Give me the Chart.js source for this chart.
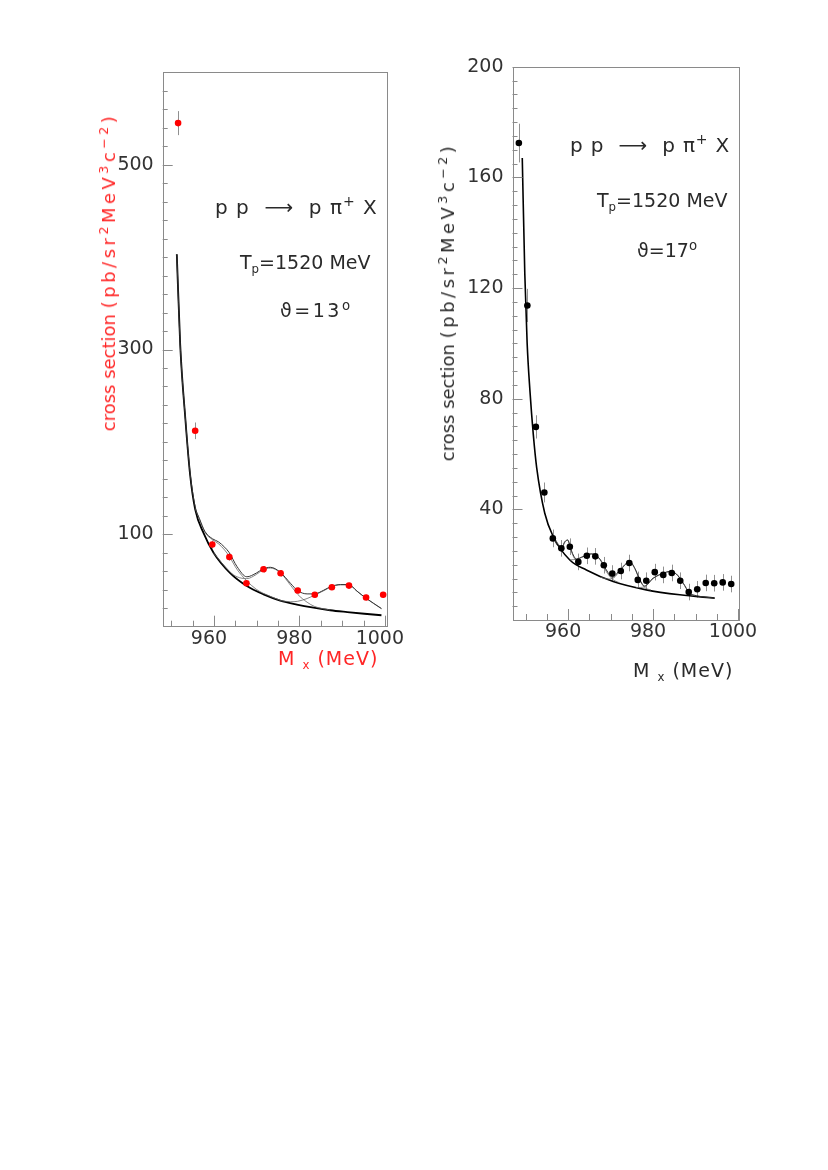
<!DOCTYPE html>
<html>
<head>
<meta charset="utf-8">
<script src="https://cdn.jsdelivr.net/npm/chart.js@4.4.1/dist/chart.umd.min.js"></script>
<style>
  body { margin: 0; background: #fff; }
  #page { position: relative; width: 828px; height: 1170px; overflow: hidden; font-family: "DejaVu Sans", sans-serif; color: #2a2a2a; }
  canvas { position: absolute; }
  .txt { position: absolute; white-space: nowrap; line-height: 1; transform: translateY(-50%); }
  .ytitle { position: absolute; white-space: nowrap; line-height: 1; font-size: 18px; transform: translate(-50%, -50%) rotate(-90deg); }
  .red { color: #ff2626; }
  .sp { letter-spacing: 3.5px; }
  sup { font-size: 0.7em; position: relative; top: -0.55em; vertical-align: baseline; line-height: 0; }
  sub { font-size: 0.62em; position: relative; top: 0.3em; vertical-align: baseline; line-height: 0; }
</style>
</head>
<body>
<div id="page">
  <canvas id="leftChart" width="347" height="640" style="left:70px;top:40px"></canvas>
  <canvas id="rightChart" width="348" height="640" style="left:420px;top:30px"></canvas>

  <div class="ytitle red" style="left:109px;top:272px">cross section <span class="sp">(pb/sr<sup>2</sup>MeV<sup>3</sup>c<sup>&minus;2</sup>)</span></div>
  <div class="txt red" style="left:278px;top:658px;font-size:19px;letter-spacing:1px">M <sub>x</sub> (MeV)</div>
  <div class="txt" style="left:215px;top:207px;font-size:20px;letter-spacing:1px">p p &nbsp;&#x27F6;&nbsp; p &pi;<sup>+</sup> X</div>
  <div class="txt" style="left:240px;top:262px;font-size:19px">T<sub>p</sub>=1520 MeV</div>
  <div class="txt" style="left:280px;top:310px;font-size:19px;letter-spacing:2.5px">&#x3D1;=13<sup>o</sup></div>

  <div class="ytitle" style="left:448px;top:302px">cross section <span class="sp">(pb/sr<sup>2</sup>MeV<sup>3</sup>c<sup>&minus;2</sup>)</span></div>
  <div class="txt" style="left:633px;top:670px;font-size:19px;letter-spacing:1px">M <sub>x</sub> (MeV)</div>
  <div class="txt" style="left:570px;top:145px;font-size:20px;letter-spacing:0.8px">p p &nbsp;&#x27F6;&nbsp; p &pi;<sup>+</sup> X</div>
  <div class="txt" style="left:597px;top:200px;font-size:19px">T<sub>p</sub>=1520 MeV</div>
  <div class="txt" style="left:637px;top:250px;font-size:19px">&#x3D1;=17<sup>o</sup></div>
</div>

<script>
// ---- theta = 13 deg (left, red points) ----
const mxLeft  = [951.6, 955.6, 959.6, 963.6, 967.6, 971.6, 975.6, 979.6, 983.6, 987.6, 991.6, 995.6, 999.6];
const csLeft  = [545, 212, 88.9, 75.5, 47, 62.2, 57.8, 39.1, 34.5, 42.7, 44.5, 31.6, 34.5];
const errLeft = [13, 9, 4.3, 4, 3.5, 3.5, 3.5, 3.2, 3, 3, 3, 3, 3];

const bgLeftX = [951.3, 952.1, 953.3, 954.4, 955.6, 957.6, 959.9, 963.8, 967.7, 971.6, 975.5, 979.4, 983.3, 987.2, 991.2, 995.2, 999.2];
const bgLeftY = [403, 305, 225, 165, 127, 101, 80, 58, 44, 35, 28.3, 24, 20.6, 17.8, 15.8, 14, 12.4];

const fitLeftX = [951.3, 952.1, 953.3, 954.4, 955.6, 956.6, 957.9, 959.7, 961.0, 962.5, 963.6, 965.4, 967.7, 969.9, 971.5, 973.2, 975.5, 977.9, 979.6, 981.8, 983.5, 985.7, 987.4, 989.6, 991.5, 993.5, 995.4, 999.2];
const fitLeftY = [403, 305, 226, 167, 130, 117, 103, 95, 92, 86, 80, 65, 54, 58, 62.5, 64.3, 59, 47, 39, 35.5, 35.5, 39.5, 43.5, 45.6, 45.6, 38.4, 31.5, 19.6];

const peak1LeftX = [955.6, 956.6, 957.9, 959.7, 961.0, 962.5, 963.6, 965.4, 967.7, 969.9, 971.6, 975.5];
const peak1LeftY = [128, 116, 102, 94, 90, 83, 76, 62, 49.5, 40.5, 36, 28.6];
const peak2LeftX = [959.9, 963.8, 965.4, 967.7, 969.9, 971.5, 973.2, 975.5, 977.9, 979.6, 981.8, 983.5, 987.2];
const peak2LeftY = [80, 59, 54, 52, 56.5, 61.5, 63.5, 58.5, 45, 35, 26.5, 22, 18];
const peak3LeftX = [975.5, 977.9, 979.6, 981.8, 983.5, 985.7, 987.4, 989.6, 991.5, 993.5, 995.4, 999.2];
const peak3LeftY = [28.3, 27, 27.5, 30.5, 34, 39, 43, 45.3, 45.3, 38.4, 31.4, 19.6];

// ---- theta = 17 deg (right, black points) ----
const mxRight  = [948.4, 950.4, 952.4, 954.4, 956.4, 958.4, 960.4, 962.4, 964.4, 966.4, 968.4, 970.4, 972.4, 974.4, 976.4, 978.4, 980.4, 982.4, 984.4, 986.4, 988.4, 990.4, 992.4, 994.4, 996.4, 998.4];
const csRight  = [172.4, 113.7, 69.8, 46.1, 29.5, 25.9, 26.5, 21.0, 23.2, 23.0, 19.8, 16.8, 17.7, 20.6, 14.5, 14.2, 17.3, 16.3, 17.0, 14.2, 10.1, 11.1, 13.4, 13.3, 13.6, 13.0];
const errRight = [7, 6, 4.2, 3.6, 3.2, 3, 3, 3, 3, 3, 3, 3, 3, 3, 3, 3, 3, 3, 3, 3, 3, 3, 3, 3, 3, 3];

const bgRightX = [949.2, 949.8, 950.35, 951.0, 951.8, 952.6, 954.5, 956.5, 960.4, 964.3, 970.6, 978.4, 986.3, 994.5];
const bgRightY = [167, 125, 100, 83, 67, 55, 38.6, 30.1, 21.7, 18.1, 13.9, 10.9, 9.1, 7.9];

const fitRightX = [956.5, 957.6, 958.6, 959.2, 959.9, 960.6, 961.2, 962.0, 963.5, 965.5, 967.5, 969.0, 970.4, 972.2, 974.5, 975.7, 976.9, 978.0, 980.0, 982.4, 983.9, 985.5, 987.1, 988.6, 990.2, 994.5];
const fitRightY = [30.1, 26.8, 26.5, 28.3, 28.9, 25.9, 23.5, 22, 22.9, 23.9, 22, 18.1, 15.5, 18.1, 21.1, 18.7, 14.5, 12.3, 15.1, 16.9, 17.5, 16.6, 13.3, 9.7, 8.8, 7.9];

const peakARightX = [956.5, 958.6, 959.2, 959.9, 960.6, 961.5, 962.5];
const peakARightY = [30.1, 26.3, 28, 28.9, 25.5, 22.2, 20.8];
const peakBRightX = [960.4, 962.0, 963.5, 965.5, 967.5, 969.0, 970.4, 972.0];
const peakBRightY = [21.7, 22, 22.9, 23.9, 21.8, 17.5, 14.8, 13.5];
const peakCRightX = [967.5, 969.5, 970.8, 972.2, 974.5, 975.7, 976.9, 978.0, 979.5];
const peakCRightY = [15.5, 14.8, 15.3, 17.8, 21, 18.6, 14.2, 11.8, 10.8];
const peakDRightX = [976.0, 978.0, 980.0, 982.4, 983.9, 985.5, 987.1, 988.6, 990.2];
const peakDRightY = [11.7, 12, 15, 16.9, 17.5, 16.6, 13.3, 9.7, 8.7];

// ---- axes ----
const xLabels = [960, 980, 1000];
const yLabelsLeft = [100, 300, 500];
const yLabelsRight = [40, 80, 120, 160, 200];

function range(from, to, step) {
    const out = [];
    for (let v = from; v <= to + 1e-9; v += step) out.push(v);
    return out;
}

const xTicks = range(950, 1000, 5);
const yTicksLeft = range(20, 580, 20);
const yTicksRight = range(5, 200, 5);

function pts(xs, ys) {
    return xs.map((x, i) => ({ x: x, y: ys[i] }));
}

const errorBars = {
    id: 'errorBars',
    beforeDatasetsDraw(chart) {
        const ctx = chart.ctx;
        const xs = chart.scales.x, ys = chart.scales.y;
        chart.data.datasets.forEach(ds => {
            if (!ds.errors) return;
            ctx.save();
            ctx.strokeStyle = ds.errorColor;
            ctx.lineWidth = 1;
            ds.data.forEach((p, i) => {
                const px = Math.round(xs.getPixelForValue(p.x)) + 0.5;
                ctx.beginPath();
                ctx.moveTo(px, ys.getPixelForValue(p.y - ds.errors[i]));
                ctx.lineTo(px, ys.getPixelForValue(p.y + ds.errors[i]));
                ctx.stroke();
            });
            ctx.restore();
        });
    }
};

// box round the plot, ticks pointing inwards on the left and bottom
const frame = {
    id: 'frame',
    afterDraw(chart, args, opts) {
        const ctx = chart.ctx, a = chart.chartArea;
        const xs = chart.scales.x, ys = chart.scales.y;
        ctx.save();
        ctx.strokeStyle = '#8a8a8a';
        ctx.lineWidth = 1;
        ctx.strokeRect(Math.round(a.left) + 0.5, Math.round(a.top) + 0.5, Math.round(a.right - a.left), Math.round(a.bottom - a.top));
        ctx.beginPath();
        xs.ticks.forEach(t => {
            const px = Math.round(xs.getPixelForValue(t.value)) + 0.5;
            const len = opts.xMajor.includes(t.value) ? 11 : 6;
            ctx.moveTo(px, a.bottom);
            ctx.lineTo(px, a.bottom - len);
        });
        ys.ticks.forEach(t => {
            const py = Math.round(ys.getPixelForValue(t.value)) + 0.5;
            const len = opts.yMajor.includes(t.value) ? 10 : 5;
            ctx.moveTo(a.left, py);
            ctx.lineTo(a.left + len, py);
        });
        ctx.stroke();
        ctx.restore();
    }
};

function lineSet(xs, ys, color, width) {
    return {
        data: pts(xs, ys),
        showLine: true,
        pointRadius: 0,
        borderColor: color,
        borderWidth: width,
        cubicInterpolationMode: 'monotone',
        fill: false
    };
}

function makePanel(id, p) {
    const tickFont = { family: 'DejaVu Sans', size: 19 };
    return new Chart(document.getElementById(id), {
        type: 'scatter',
        data: { datasets: p.datasets },
        options: {
            responsive: false,
            animation: false,
            devicePixelRatio: 1,
            events: [],
            layout: { padding: p.padding },
            plugins: {
                legend: { display: false },
                tooltip: { enabled: false },
                frame: { xMajor: xLabels, yMajor: p.yLabels }
            },
            scales: {
                x: {
                    type: 'linear',
                    min: p.xMin,
                    max: p.xMax,
                    grid: { display: false, drawTicks: false },
                    border: { display: false },
                    afterBuildTicks: s => { s.ticks = xTicks.map(v => ({ value: v })); },
                    afterFit: s => { s.height = p.xHeight; },
                    ticks: {
                        autoSkip: false,
                        maxRotation: 0,
                        padding: 1,
                        labelOffset: -5,
                        color: '#333',
                        font: tickFont,
                        callback: v => xLabels.includes(v) ? String(v) : ''
                    }
                },
                y: {
                    type: 'linear',
                    min: 0,
                    max: p.yMax,
                    grid: { display: false, drawTicks: false },
                    border: { display: false },
                    afterBuildTicks: s => { s.ticks = p.yTicks.map(v => ({ value: v })); },
                    afterFit: s => { s.width = p.yWidth; },
                    ticks: {
                        autoSkip: false,
                        padding: 9,
                        color: '#333',
                        font: tickFont,
                        callback: v => p.yLabels.includes(v) ? String(v) : ''
                    }
                }
            }
        },
        plugins: [errorBars, frame]
    });
}

makePanel('leftChart', {
    padding: { left: 0, top: 32.3, right: 30, bottom: 0 },
    yWidth: 92.7,
    xHeight: 53.3,
    xMin: 948, xMax: 1000.5, yMax: 600,
    yTicks: yTicksLeft, yLabels: yLabelsLeft,
    datasets: [
        {
            data: pts(mxLeft, csLeft),
            errors: errLeft,
            errorColor: '#909090',
            pointRadius: 3.3,
            pointBackgroundColor: '#ff0000',
            pointBorderWidth: 0
        },
        lineSet(fitLeftX, fitLeftY, '#333', 1),
        lineSet(peak1LeftX, peak1LeftY, '#666', 0.8),
        lineSet(peak2LeftX, peak2LeftY, '#666', 0.8),
        lineSet(peak3LeftX, peak3LeftY, '#666', 0.8),
        lineSet(bgLeftX, bgLeftY, '#000', 1.8)
    ]
});

makePanel('rightChart', {
    padding: { left: 0, top: 36.7, right: 30, bottom: 0 },
    yWidth: 92.5,
    xHeight: 50,
    xMin: 946.9, xMax: 1000, yMax: 200,
    yTicks: yTicksRight, yLabels: yLabelsRight,
    datasets: [
        {
            data: pts(mxRight, csRight),
            errors: errRight,
            errorColor: '#909090',
            pointRadius: 3.3,
            pointBackgroundColor: '#000',
            pointBorderWidth: 0
        },
        lineSet(fitRightX, fitRightY, '#333', 1),
        lineSet(peakARightX, peakARightY, '#666', 0.8),
        lineSet(peakBRightX, peakBRightY, '#666', 0.8),
        lineSet(peakCRightX, peakCRightY, '#666', 0.8),
        lineSet(peakDRightX, peakDRightY, '#666', 0.8),
        lineSet(bgRightX, bgRightY, '#000', 1.6)
    ]
});
</script>
</body>
</html>
